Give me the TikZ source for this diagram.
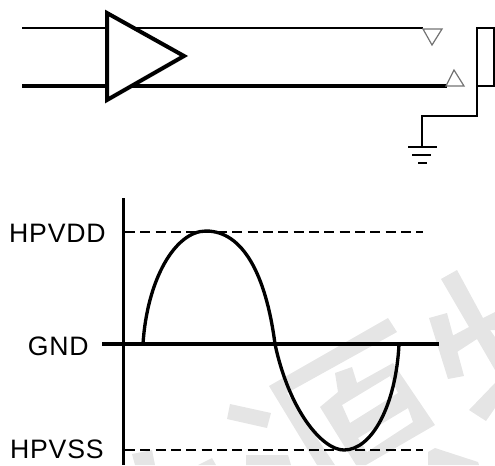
\documentclass[tikz,border=0pt]{standalone}
\usepackage{fontspec}
\setmainfont{Liberation Sans}
\newfontfamily\lblfont[LetterSpace=3]{Liberation Sans}
\usepackage{tikz}
\usetikzlibrary{positioning,arrows.meta}

\begin{document}
\begin{tikzpicture}[x=0.75pt,y=-0.75pt,
      wire/.style={draw,line width=1.2pt},
      busline/.style={draw,line width=2.5pt},
      level/.style={draw,line width=1.2pt,dash pattern=on 7.5pt off 4pt},
      lbl/.style={inner sep=0pt,font=\fontsize{20}{22}\lblfont},
      probe/.style={draw=black!55,line width=0.9pt},
      stamp/.style={fill=black!10,draw=none,even odd rule}]
      \useasboundingbox (0,0) rectangle (495,465);
      % watermark
      \fill[stamp] (230,404) -- (271,413) -- (267,428) -- (227,419) -- cycle;
      \fill[stamp] (132,454) -- (152,450) -- (155,465) -- (135,465) -- cycle;
      \fill[stamp] (198,465) -- (212,458) -- (216,465) -- cycle;
      \fill[stamp] (246,465) -- (246,455) -- (288,455) -- (291,465) -- cycle;
      \fill[stamp] (269,386) -- (388,318) -- (397,332) -- (287,393) -- (335,465) -- (317,465) -- cycle;
      \fill[stamp] (335,373) -- (352,367) -- (357,383) -- (393,363) -- (435,425) -- (366,465) -- (356,465)
        -- (320,407) -- (338,392) -- cycle
        (342,405) -- (390,376) -- (398,393) -- (350,423) -- cycle
        (358,438) -- (408,408) -- (413,422) -- (367,452) -- cycle;
      \fill[stamp] (428,452) -- (435,448) -- (478,462) -- (479,465) -- (428,465) -- cycle;
      \fill[stamp] (441,279) -- (457,270) -- (483,318) -- (495,312) -- (495,330) -- (490,330) -- (495,337)
        -- (495,370) -- (477,339) -- (457,352) -- (452,336) -- (469,327) -- cycle;
      \fill[stamp] (429,318) -- (447,313) -- (464,376) -- (448,379) -- cycle;
      \fill[stamp] (469,410) -- (495,383) -- (495,408) -- (486,421) -- cycle;
      % top: driver and load
      \coordinate (inA) at (22,28);
      \coordinate (inB) at (22,86);
      \coordinate (endA) at (423,28);
      \coordinate (endB) at (447,86);
      \coordinate (driverT) at (107,13);
      \coordinate (driverB) at (107,100);
      \coordinate (driverR) at (184,56);
      \draw[wire] (inA) -- (endA);
      \draw[busline] (inB) -- (endB);
      \draw[fill=white,line width=3pt] (driverT) -- (driverR) -- (driverB) -- cycle;
      \draw[probe] (423,29) -- (442,29) -- (432,45) -- cycle;
      \draw[probe] (446,86) -- (464,86) -- (454,70) -- cycle;
      \coordinate (loadNW) at (477,28);
      \coordinate (loadNE) at (494,28);
      \coordinate (loadSE) at (494,86);
      \coordinate (loadSW) at (477,86);
      \coordinate (bendA) at (477,116);
      \coordinate (bendB) at (422,116);
      \coordinate (gndTop) at (422,147);
      \draw[wire] (loadSE) -- (loadSW) -- (loadNW) -- (loadNE) -- cycle;
      \draw[wire] (loadSW) -- (bendA) -- (bendB) -- (gndTop);
      \draw[wire] (408,147) -- (437,147);
      \draw[wire] (412,155) -- (431,155);
      \draw[wire] (418,163) -- (427,163);
      % bottom: output swing
      \node[lbl,anchor=east] (vdd) at (106,233.5) {HPVDD};
      \node[lbl,anchor=east] (gnd) at (89,346) {GND};
      \node[lbl,anchor=east] (vss) at (104,449.5) {HPVSS};
      \coordinate (axisT) at (123.5,198);
      \coordinate (axisB) at (123.5,465);
      \coordinate (gndL) at (102,344);
      \coordinate (gndR) at (439,344);
      \draw[level] (125,232) -- (423,232);
      \draw[level] (125,450) -- (423,450);
      \draw[busline] (axisT) -- (axisB);
      \draw[busline] (gndL) -- (gndR);
      \draw[busline] (143,344) .. controls (147,280) and (175,231) .. (206,231)
        .. controls (243,231) and (266,275) .. (275,344)
        .. controls (289,410) and (322,450) .. (344,450)
        .. controls (372,450) and (396,405) .. (399,344);
    \end{tikzpicture}
\end{document}
